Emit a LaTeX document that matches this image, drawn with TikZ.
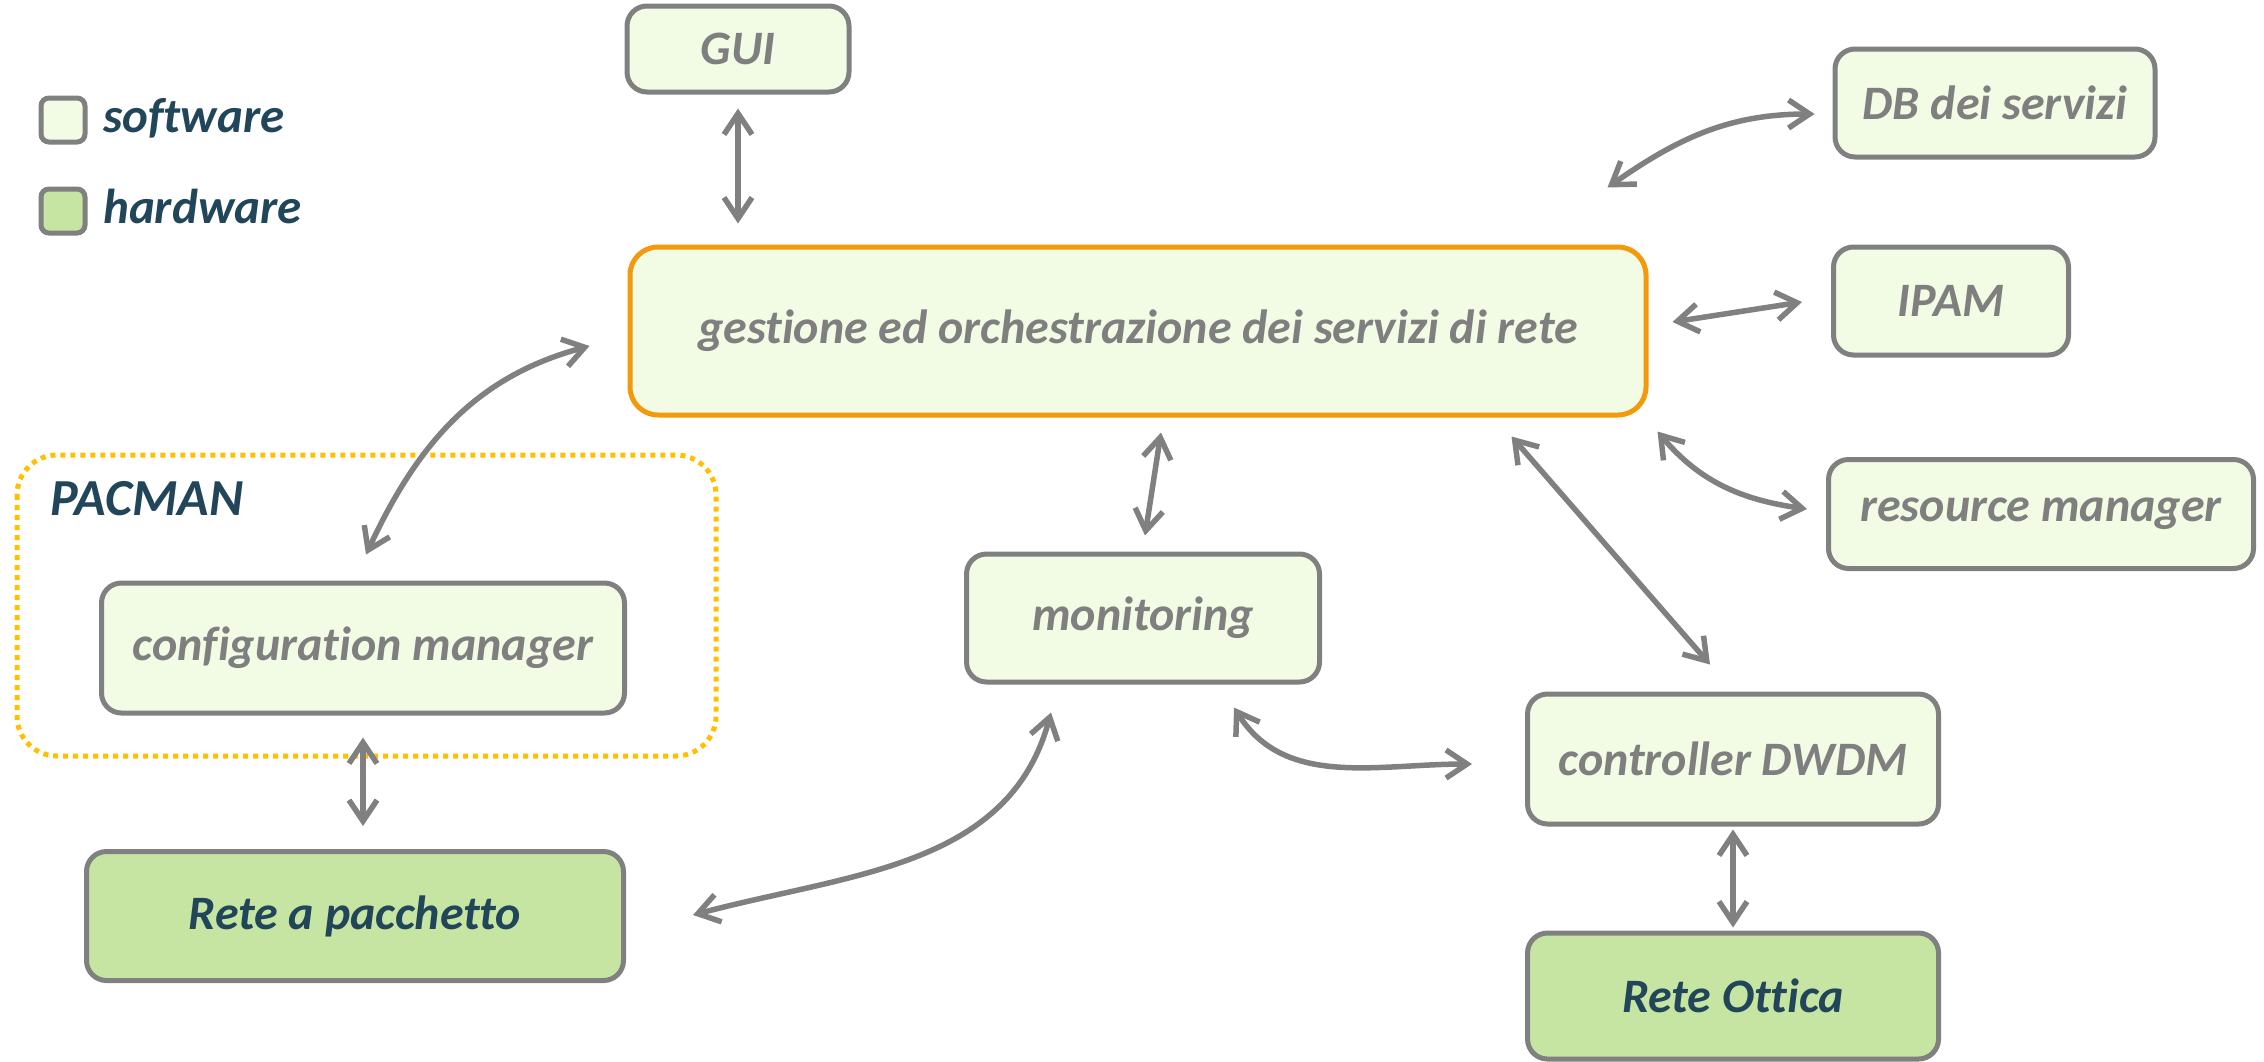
\documentclass[tikz,border=0pt]{standalone}
\usepackage{fontspec}
\setmainfont{Carlito}[Ligatures={NoCommon}]
\usetikzlibrary{arrows.meta,calc}
\definecolor{swfill}{HTML}{F2FBE3}
\definecolor{hwfill}{HTML}{C6E5A2}
\definecolor{edge}{HTML}{808080}
\definecolor{ink}{HTML}{7F7F7F}
\definecolor{navy}{HTML}{21465A}
\definecolor{amber}{HTML}{F29A0C}
\definecolor{gold}{HTML}{FFC000}

\begin{document}
\begin{tikzpicture}[x=1pt,y=-1pt,
  box/.style={draw=edge, line width=5pt, rounded corners=20pt, align=center,
    inner sep=0pt, font=\fontsize{48}{56}\selectfont\bfseries\itshape},
  sw/.style={box, fill=swfill, text=ink},
  hw/.style={box, fill=hwfill, text=navy},
  legendbox/.style={draw=edge, line width=5pt, rounded corners=8pt,
    minimum width=44pt, minimum height=44pt, inner sep=0pt},
  legendtext/.style={anchor=base west, inner sep=0pt, text=navy,
    font=\fontsize{49}{56}\selectfont\bfseries\itshape},
  link/.style={draw=edge, line width=5.5pt,
    {Straight Barb[length=21pt,width=28pt]}-{Straight Barb[length=21pt,width=28pt]}},
]
\useasboundingbox (0,0) rectangle (2264,1061);

% legend
\node[legendbox, fill=swfill] (legsw) at (63,120) {};
\node[legendtext] (legswt) at (103,132) {software};
\node[legendbox, fill=hwfill] (leghw) at (63,211) {};
\node[legendtext] (leghwt) at (103,223) {hardware};

% PACMAN group frame
\draw[gold, line width=5pt, dash pattern=on 5pt off 5pt, rounded corners=40pt]
  (17,455) rectangle (716,756);
\node[anchor=base west, inner sep=0pt, text=navy,
  font=\fontsize{52}{60}\selectfont\bfseries\itshape] (pacman) at (50,515) {PACMAN};

% blocks
\node[sw, minimum width=222pt, minimum height=86pt] (gui) at (738,49) {GUI};
\node[sw, draw=amber, rounded corners=28pt, minimum width=1016pt, minimum height=168pt]
  (main) at (1138,331) {gestione ed orchestrazione dei servizi di rete};
\node[sw, minimum width=320pt, minimum height=108pt] (db) at (1995,103) {DB dei servizi};
\node[sw, minimum width=235pt, minimum height=108pt] (ipam) at (1951,301) {IPAM};
\node[sw, minimum width=425pt, minimum height=109pt] (res) at (2041,514) {resource manager};
\node[sw, minimum width=523pt, minimum height=130pt] (cfg) at (363,648) {configuration manager};
\node[hw, minimum width=537pt, minimum height=129pt] (pkt) at (355,916) {Rete a pacchetto};
\node[sw, minimum width=353pt, minimum height=128pt] (mon) at (1143,618) {monitoring};
\node[sw, minimum width=411pt, minimum height=130pt] (ctrl) at (1733,759) {controller DWDM};
\node[hw, minimum width=411pt, minimum height=126pt] (opt) at (1733,996) {Rete Ottica};

% connectors
\draw[link, shorten <=14pt, shorten >=21pt] (gui.south) -- (gui.south |- main.north);
\draw[link] ([xshift=-18pt,yshift=-11pt]db.west) to[out=180, in=35]
  ([xshift=-41pt,yshift=57pt]main.north east);
\draw[link] ([xshift=24pt,yshift=9pt]main.east) -- ([xshift=-29pt,yshift=-1pt]ipam.west);
\draw[link] ([xshift=9pt,yshift=-14pt]main.south east) to[out=-50, in=172]
  ([xshift=-19pt,yshift=5pt]res.west);
\draw[link] ([xshift=-137pt,yshift=-19pt]main.south east) --
  ([xshift=-23pt,yshift=27pt]ctrl.north);
\draw[link] ([xshift=23pt,yshift=-15pt]main.south) -- ([xshift=2pt,yshift=16pt]mon.north);
\draw[link] ([xshift=-92pt,yshift=-28pt]mon.south) to[out=-105, in=15]
  ([xshift=67pt,yshift=1pt]pkt.east);
\draw[link] ([xshift=91pt,yshift=-23pt]mon.south) to[out=-58, in=180]
  ([xshift=-53pt,yshift=-5pt]ctrl.west);
\draw[link] ([xshift=3pt,yshift=26pt]cfg.north) to[out=65, in=195]
  ([xshift=-38pt,yshift=-15pt]main.west);
\draw[link, shorten <=22pt, shorten >=23pt] (cfg.south) -- (cfg.south |- pkt.north);
\draw[link, shorten <=3pt, shorten >=3pt] (ctrl.south) -- (opt.north);
\end{tikzpicture}
\end{document}
